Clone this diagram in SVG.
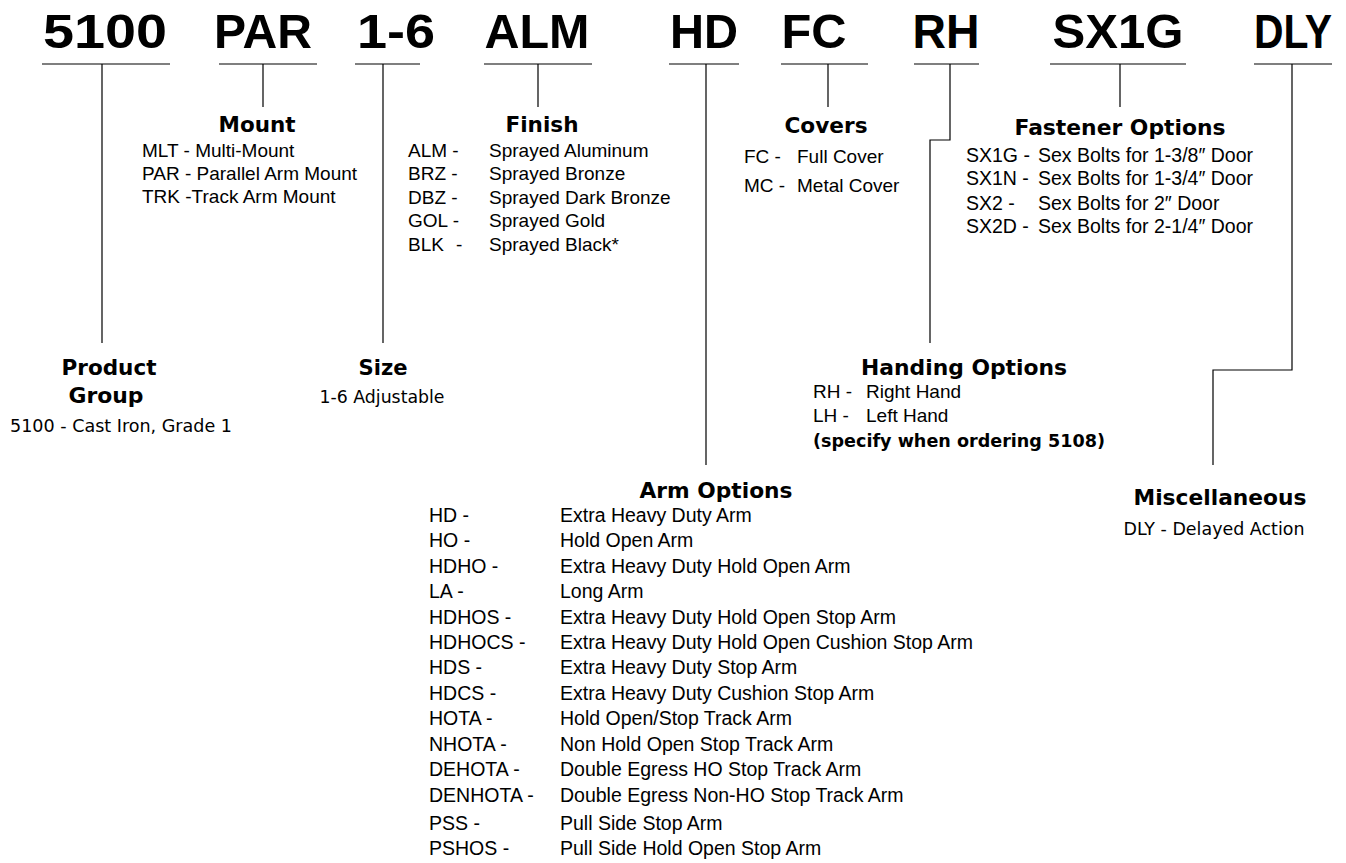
<svg xmlns="http://www.w3.org/2000/svg" width="1346" height="863" viewBox="0 0 1346 863">
<style>
.code{font-family:"Liberation Sans Narrow","Liberation Sans",Arial,sans-serif;font-weight:bold;font-size:49px;fill:#000}
.hd{font-family:"DejaVu Sans",Verdana,sans-serif;font-weight:bold;font-size:22px;fill:#000}
.tx{font-family:"DejaVu Sans",Verdana,sans-serif;font-size:17px;fill:#000}
.nr{font-family:"Liberation Sans",Arial,sans-serif;font-size:19px;fill:#000}
.ar{font-family:"Liberation Sans",Arial,sans-serif;font-size:19.5px;fill:#000}
.ln{stroke:#000;stroke-width:1.2;fill:none}
.m{text-anchor:middle}
</style>
<rect width="1346" height="863" fill="#fff"/>
<g id="codes">
<text class="code m" x="105" y="48" textLength="124" lengthAdjust="spacingAndGlyphs">5100</text>
<text class="code m" x="263" y="48" textLength="98" lengthAdjust="spacingAndGlyphs">PAR</text>
<text class="code m" x="396" y="48" textLength="78" lengthAdjust="spacingAndGlyphs">1-6</text>
<text class="code m" x="537" y="48" textLength="105" lengthAdjust="spacingAndGlyphs">ALM</text>
<text class="code m" x="704" y="48" textLength="68" lengthAdjust="spacingAndGlyphs">HD</text>
<text class="code m" x="814" y="48" textLength="65" lengthAdjust="spacingAndGlyphs">FC</text>
<text class="code m" x="946" y="48" textLength="67" lengthAdjust="spacingAndGlyphs">RH</text>
<text class="code m" x="1118" y="48" textLength="131" lengthAdjust="spacingAndGlyphs">SX1G</text>
<text class="code m" x="1293" y="48" textLength="78" lengthAdjust="spacingAndGlyphs">DLY</text>
</g>
<g id="connectors" class="ln">
<path d="M42 64H170M102 64V343"/>
<path d="M219 64H317M263 64V107"/>
<path d="M355 64H420M383 64V343"/>
<path d="M484 64H592M538 64V107"/>
<path d="M669 64H739M706 64V465"/>
<path d="M781 64H868M828 64V107"/>
<path d="M914 64H979M950 64V140H930V343"/>
<path d="M1050 64H1186M1120 64V107"/>
<path d="M1254 64H1332M1292 64V370H1213V465"/>
</g>
<g id="product-group">
<text class="hd m" x="109" y="375" textLength="95" lengthAdjust="spacingAndGlyphs">Product</text>
<text class="hd m" x="106" y="403" textLength="75" lengthAdjust="spacingAndGlyphs">Group</text>
<text class="tx" x="10" y="432" textLength="222" lengthAdjust="spacingAndGlyphs">5100 - Cast Iron, Grade 1</text>
</g>
<g id="mount">
<text class="hd m" x="257" y="132" textLength="77" lengthAdjust="spacingAndGlyphs">Mount</text>
<text class="nr" x="142" y="157">MLT - Multi-Mount</text>
<text class="nr" x="142" y="180">PAR - Parallel Arm Mount</text>
<text class="nr" x="142" y="203">TRK -Track Arm Mount</text>
</g>
<g id="size">
<text class="hd m" x="383" y="375" textLength="49" lengthAdjust="spacingAndGlyphs">Size</text>
<text class="tx m" x="382" y="403" textLength="125" lengthAdjust="spacingAndGlyphs">1-6 Adjustable</text>
</g>
<g id="finish">
<text class="hd m" x="542" y="132" textLength="73" lengthAdjust="spacingAndGlyphs">Finish</text>
<text class="nr" x="408" y="157">ALM -</text><text class="nr" x="489" y="157">Sprayed Aluminum</text>
<text class="nr" x="408" y="180">BRZ -</text><text class="nr" x="489" y="180">Sprayed Bronze</text>
<text class="nr" x="408" y="204">DBZ -</text><text class="nr" x="489" y="204">Sprayed Dark Bronze</text>
<text class="nr" x="408" y="227">GOL -</text><text class="nr" x="489" y="227">Sprayed Gold</text>
<text class="nr" x="408" y="251">BLK</text><text class="nr" x="456" y="251">-</text><text class="nr" x="489" y="251">Sprayed Black*</text>
</g>
<g id="covers">
<text class="hd m" x="826" y="133" textLength="83" lengthAdjust="spacingAndGlyphs">Covers</text>
<text class="nr" x="744" y="163">FC -</text><text class="nr" x="797" y="163">Full Cover</text>
<text class="nr" x="744" y="192">MC -</text><text class="nr" x="797" y="192">Metal Cover</text>
</g>
<g id="fastener-options">
<text class="hd m" x="1120" y="135" textLength="211" lengthAdjust="spacingAndGlyphs">Fastener Options</text>
<text class="ar" x="966" y="162">SX1G -</text><text class="ar" x="1038" y="162">Sex Bolts for 1-3/8″ Door</text>
<text class="ar" x="966" y="185">SX1N -</text><text class="ar" x="1038" y="185">Sex Bolts for 1-3/4″ Door</text>
<text class="ar" x="966" y="210">SX2 -</text><text class="ar" x="1038" y="210">Sex Bolts for 2″ Door</text>
<text class="ar" x="966" y="233">SX2D -</text><text class="ar" x="1038" y="233">Sex Bolts for 2-1/4″ Door</text>
</g>
<g id="handing-options">
<text class="hd" x="861" y="375" textLength="206" lengthAdjust="spacingAndGlyphs">Handing Options</text>
<text class="nr" x="813" y="398">RH -</text><text class="nr" x="866" y="398">Right Hand</text>
<text class="nr" x="813" y="422">LH -</text><text class="nr" x="866" y="422">Left Hand</text>
<text class="tx" x="813" y="447" font-weight="bold" textLength="292" lengthAdjust="spacingAndGlyphs">(specify when ordering 5108)</text>
</g>
<g id="arm-options">
<text class="hd m" x="716" y="498" textLength="153" lengthAdjust="spacingAndGlyphs">Arm Options</text>
<text class="ar" x="429" y="522">HD -</text><text class="ar" x="560" y="522">Extra Heavy Duty Arm</text>
<text class="ar" x="429" y="547">HO -</text><text class="ar" x="560" y="547">Hold Open Arm</text>
<text class="ar" x="429" y="573">HDHO -</text><text class="ar" x="560" y="573">Extra Heavy Duty Hold Open Arm</text>
<text class="ar" x="429" y="598">LA -</text><text class="ar" x="560" y="598">Long Arm</text>
<text class="ar" x="429" y="624">HDHOS -</text><text class="ar" x="560" y="624">Extra Heavy Duty Hold Open Stop Arm</text>
<text class="ar" x="429" y="649">HDHOCS -</text><text class="ar" x="560" y="649">Extra Heavy Duty Hold Open Cushion Stop Arm</text>
<text class="ar" x="429" y="674">HDS -</text><text class="ar" x="560" y="674">Extra Heavy Duty Stop Arm</text>
<text class="ar" x="429" y="700">HDCS -</text><text class="ar" x="560" y="700">Extra Heavy Duty Cushion Stop Arm</text>
<text class="ar" x="429" y="725">HOTA -</text><text class="ar" x="560" y="725">Hold Open/Stop Track Arm</text>
<text class="ar" x="429" y="751">NHOTA -</text><text class="ar" x="560" y="751">Non Hold Open Stop Track Arm</text>
<text class="ar" x="429" y="776">DEHOTA -</text><text class="ar" x="560" y="776">Double Egress HO Stop Track Arm</text>
<text class="ar" x="429" y="802">DENHOTA -</text><text class="ar" x="560" y="802">Double Egress Non-HO Stop Track Arm</text>
<text class="ar" x="429" y="830">PSS -</text><text class="ar" x="560" y="830">Pull Side Stop Arm</text>
<text class="ar" x="429" y="855">PSHOS -</text><text class="ar" x="560" y="855">Pull Side Hold Open Stop Arm</text>
</g>
<g id="miscellaneous">
<text class="hd m" x="1220" y="505" textLength="173" lengthAdjust="spacingAndGlyphs">Miscellaneous</text>
<text class="tx m" x="1214" y="535" textLength="181" lengthAdjust="spacingAndGlyphs">DLY - Delayed Action</text>
</g>
</svg>
